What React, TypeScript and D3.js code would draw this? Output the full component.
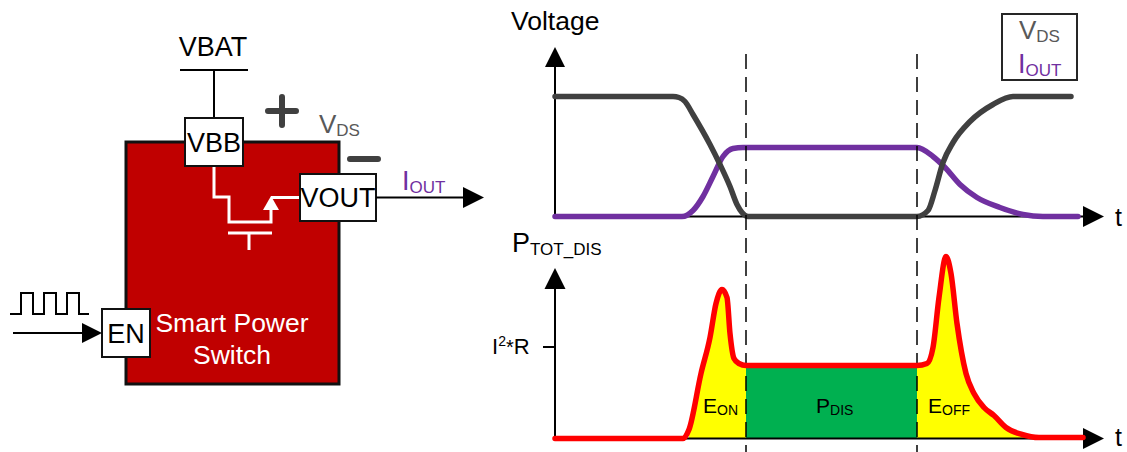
import React from "react";
import * as d3 from "d3";

const FONT = "'Liberation Sans', Arial, sans-serif";

// Upper plot: time and value (arbitrary units, axis origin = 0)
const vdsTime = [0, 118, 124, 130, 138, 155, 165, 175, 182, 187, 193, 362, 373, 380, 388, 398, 415, 438, 458, 516];
const vdsValue = [120, 120, 119, 115, 102, 72, 52, 30, 12, 4, 0, 0, 6, 26, 54, 74, 95, 112, 120, 120];
const ioutTime = [0, 127, 138, 148, 158, 168, 178, 188, 362, 378, 390, 405, 422, 445, 468, 488, 523];
const ioutValue = [0, 0, 6, 20, 40, 60, 68, 69, 69, 60, 49, 32, 19, 9, 2, 0, 0];

// Lower plot
const powerTime = [0, 128, 134, 146, 155, 161, 167, 172, 175, 179, 184, 191, 362, 372, 378, 384, 391, 396, 402, 411, 419, 429, 439, 451, 467, 484, 528];
const powerValue = [0, 0, 9, 65, 101, 135, 149, 141, 105, 80, 75, 73, 73, 75, 91, 141, 182, 165, 115, 65, 45, 31, 23, 11, 4, 1, 1];
const energyStart = 130;
const conductionStart = 191;
const conductionEnd = 362;
const energyEnd = 484;

const pulseX = [10, 21, 21, 33, 33, 44, 44, 56, 56, 67, 67, 79, 79, 89];
const pulseLevel = [0, 0, 1, 1, 0, 0, 1, 1, 0, 0, 1, 1, 0, 0];

const x = d3.scaleLinear().domain([0, 528]).range([555, 1083]);
const yTop = d3.scaleLinear().domain([0, 120]).range([216.5, 96.5]);
const yBottom = d3.scaleLinear().domain([0, 183]).range([438.5, 255.5]);
const pulseY = d3.scaleLinear().domain([0, 1]).range([314, 293]);

const curveLine = (ys: d3.ScaleLinear<number, number>) =>
  d3.line<[number, number]>().x((d) => x(d[0])).y((d) => ys(d[1])).curve(d3.curveMonotoneX);
const zip = (a: number[], b: number[]) => a.map((t, i) => [t, b[i]] as [number, number]);

const powerPts = zip(powerTime, powerValue);
const powerArea = d3
  .area<[number, number]>()
  .x((d) => x(d[0]))
  .y0(yBottom(0))
  .y1((d) => yBottom(d[1]))
  .curve(d3.curveMonotoneX);
const between = (a: number, b: number) => powerPts.filter((d) => d[0] >= a && d[0] <= b);

const Arrow = ({ tip, dir, len = 21, half = 10.5 }: { tip: [number, number]; dir: "up" | "right"; len?: number; half?: number }) => {
  const [a, b] = tip;
  const pts = dir === "up" ? [[a, b], [a - half, b + len], [a + half, b + len]] : [[a, b], [a - len, b - half], [a - len, b + half]];
  return <polygon points={pts.map((p) => p.join(",")).join(" ")} fill="#000" />;
};

const Label = ({ x: px, y, main, sub, fill = "#000", size = 27, subSize = 17, drop = 3 }: any) => (
  <text x={px} y={y} fill={fill} fontSize={size} fontFamily={FONT}>
    {main}
    <tspan fontSize={subSize} dy={drop}>{sub}</tspan>
  </text>
);

const Box = ({ x: px, y, w, h, label }: any) => (
  <g>
    <rect x={px} y={y} width={w} height={h} fill="#fff" stroke="#111" strokeWidth={2} />
    <text x={px + w / 2} y={y + h / 2 + 9.5} textAnchor="middle" fontSize={27} fontFamily={FONT} fill="#000">{label}</text>
  </g>
);

export default function App() {
  return (
    <svg width={1127} height={452} style={{ position: "absolute", left: 0, top: 0, background: "#fff" }}>
      {/* Left schematic */}
      <rect x={126} y={142} width={213} height={242} fill="#C00000" stroke="#111" strokeWidth={3} />
      <line x1={180} x2={248} y1={70} y2={70} stroke="#000" strokeWidth={2} />
      <line x1={214} x2={214} y1={70} y2={118} stroke="#000" strokeWidth={2} />
      <text x={213} y={56} textAnchor="middle" fontSize={27} fontFamily={FONT}>VBAT</text>
      <path d="M214,166V197H229V222H271V200M271,197.5H300" fill="none" stroke="#fff" strokeWidth={3} />
      <polygon points="271,196 263,210 279,210" fill="#fff" />
      <path d="M228,233H272M249,233V250" fill="none" stroke="#fff" strokeWidth={3} />
      <Box x={185} y={118} w={58} h={48} label="VBB" />
      <Box x={300} y={174} w={76} h={47} label="VOUT" />
      <Box x={102} y={309} w={48} h={48} label="EN" />
      <path d="M268,111H296M282,97V125M350,159H378" fill="none" stroke="#404040" strokeWidth={6} strokeLinecap="round" />
      <Label x={319} y={133} main="V" sub="DS" fill="#595959" size={26} />
      <Label x={402} y={190} main="I" sub="OUT" fill="#7030A0" />
      <line x1={376} x2={465} y1={197.5} y2={197.5} stroke="#000" strokeWidth={2} />
      <Arrow tip={[484, 197.5]} dir="right" />
      <path d={d3.line<number>().x((d) => d).y((_, i) => pulseY(pulseLevel[i]))(pulseX) ?? ""} fill="none" stroke="#000" strokeWidth={2} />
      <line x1={13} x2={84} y1={333} y2={333} stroke="#000" strokeWidth={2} />
      <Arrow tip={[102, 333]} dir="right" len={20} half={10} />
      <text x={232} y={332} textAnchor="middle" fill="#fff" fontSize={26.5} fontFamily={FONT}>Smart Power</text>
      <text x={232} y={364} textAnchor="middle" fill="#fff" fontSize={26.5} fontFamily={FONT}>Switch</text>

      {/* Upper plot */}
      <text x={511} y={30} fontSize={26.5} fontFamily={FONT}>Voltage</text>
      <line x1={555} x2={555} y1={216.5} y2={62} stroke="#000" strokeWidth={2} />
      <Arrow tip={[555, 47]} dir="up" len={20} half={10} />
      <line x1={555} x2={1085} y1={216.5} y2={216.5} stroke="#000" strokeWidth={2} />
      <Arrow tip={[1104, 216.5]} dir="right" />
      <text x={1115} y={226} fontSize={25} fontFamily={FONT}>t</text>
      <path d={curveLine(yTop)(zip(ioutTime, ioutValue)) ?? ""} fill="none" stroke="#7030A0" strokeWidth={5.5} strokeLinecap="round" />
      <path d={curveLine(yTop)(zip(vdsTime, vdsValue)) ?? ""} fill="none" stroke="#404040" strokeWidth={5.5} strokeLinecap="round" />
      <rect x={1002} y={14} width={75} height={66} fill="#fff" stroke="#262626" strokeWidth={2} />
      <Label x={1019} y={39} main="V" sub="DS" fill="#595959" size={26} />
      <Label x={1018} y={73} main="I" sub="OUT" fill="#7030A0" />

      {/* Lower plot */}
      <path d={powerArea(between(energyStart, conductionStart)) ?? ""} fill="#FFFF00" />
      <path d={powerArea(between(conductionEnd, energyEnd)) ?? ""} fill="#FFFF00" />
      <path d={powerArea(between(conductionStart, conductionEnd)) ?? ""} fill="#00B050" />
      <Label x={512} y={252} main="P" sub="TOT_DIS" drop={3} />
      <line x1={555} x2={555} y1={438.5} y2={285} stroke="#000" strokeWidth={2} />
      <Arrow tip={[555, 268]} dir="up" />
      <line x1={555} x2={1085} y1={438.5} y2={438.5} stroke="#000" strokeWidth={2} />
      <Arrow tip={[1104, 438.5]} dir="right" />
      <text x={1115} y={446} fontSize={25} fontFamily={FONT}>t</text>
      <line x1={543} x2={555} y1={347} y2={347} stroke="#000" strokeWidth={2} />
      <text x={492} y={354} fontSize={22} fontFamily={FONT}>
        I<tspan fontSize={14} dy={-8}>2</tspan><tspan dy={8} fontSize={20}>*</tspan>R
      </text>
      <Label x={703} y={413} main="E" sub="ON" size={21} subSize={14} drop={2} />
      <Label x={816} y={413} main="P" sub="DIS" size={21} subSize={14} drop={2} />
      <Label x={928} y={413} main="E" sub="OFF" size={21} subSize={14} drop={2} />

      {/* Dashed time markers */}
      {[conductionStart, conductionEnd].map((t) => (
        <line key={t} x1={x(t)} x2={x(t)} y1={54} y2={452} stroke="#000" strokeWidth={1.5} strokeDasharray="15 8" />
      ))}
      <path d={curveLine(yBottom)(powerPts) ?? ""} fill="none" stroke="#FF0000" strokeWidth={5.5} strokeLinecap="round" strokeLinejoin="round" />
    </svg>
  );
}
